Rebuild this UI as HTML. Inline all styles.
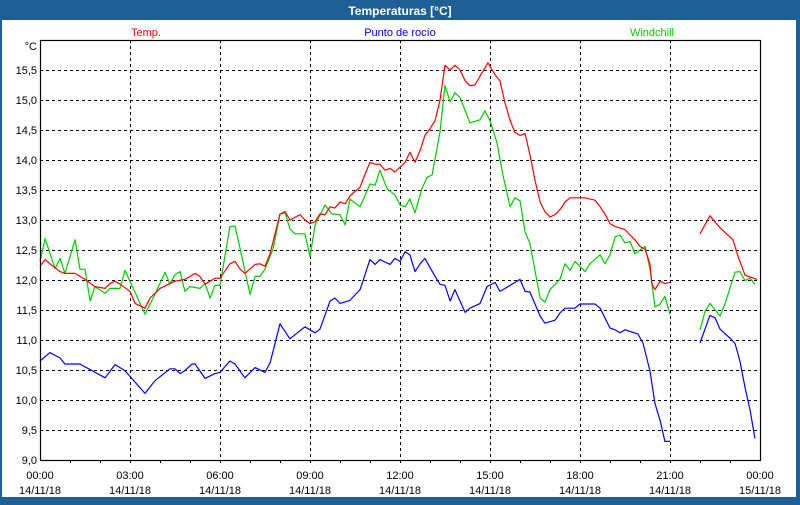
<!DOCTYPE html>
<html><head><meta charset="utf-8"><style>
html,body{margin:0;padding:0;background:#1e5f96;}
body{width:800px;height:500px;overflow:hidden;font-family:"Liberation Sans",sans-serif;}
svg text{font-family:"Liberation Sans",sans-serif;}
</style></head><body>
<svg id="chart" width="800" height="500" xmlns="http://www.w3.org/2000/svg">
<rect x="0" y="0" width="800" height="500" fill="#1e5f96"/>
<rect x="2" y="20" width="794" height="477" fill="#ffffff"/>
<text x="400" y="15" text-anchor="middle" font-size="12" font-weight="bold" fill="#ffffff">Temperaturas [°C]</text>
<text x="146" y="36" text-anchor="middle" font-size="11" fill="#ff0000">Temp.</text>
<text x="400" y="36" text-anchor="middle" font-size="11" fill="#0000ff">Punto de rocío</text>
<text x="652" y="36" text-anchor="middle" font-size="11" fill="#00cc00">Windchill</text>
<text x="37" y="50" text-anchor="end" font-size="11" fill="#000">°C</text>
<g id="grid"></g>
<g id="series"></g>
<g id="axes"></g>
</svg>
<script>
const yTicks=[9.0,9.5,10.0,10.5,11.0,11.5,12.0,12.5,13.0,13.5,14.0,14.5,15.0,15.5];
const yTickLabels=["9,0","9,5","10,0","10,5","11,0","11,5","12,0","12,5","13,0","13,5","14,0","14,5","15,0","15,5"];
const xTicks=[0,3,6,9,12,15,18,21,24];
const xTimeLabels=["00:00","03:00","06:00","09:00","12:00","15:00","18:00","21:00","00:00"];
const xDateLabels=["14/11/18","14/11/18","14/11/18","14/11/18","14/11/18","14/11/18","14/11/18","14/11/18","15/11/18"];

const tempHours=[0,0.17,0.33,0.67,0.83,1.17,1.5,1.83,2.17,2.33,2.5,2.67,3.0,3.17,3.5,3.67,4.0,4.33,4.5,4.83,5.17,5.33,5.5,5.67,5.83,6.0,6.33,6.5,6.67,6.83,7.17,7.33,7.5,7.67,8.0,8.17,8.33,8.67,8.83,9.0,9.17,9.33,9.5,9.67,9.83,10.0,10.17,10.33,10.67,10.83,11.0,11.17,11.33,11.5,11.67,11.83,12.17,12.33,12.5,12.67,12.83,13.0,13.17,13.33,13.5,13.67,13.83,14.0,14.17,14.33,14.5,14.67,14.83,14.93,15.17,15.33,15.5,15.67,15.83,16.0,16.17,16.33,16.5,16.67,16.83,17.0,17.17,17.33,17.5,17.67,18.17,18.5,18.67,18.83,19.0,19.17,19.5,19.67,19.83,20.0,20.17,20.33,20.4,20.5,20.67,20.83,21.0,21.5,22.0,22.33,22.67,23.1,23.27,23.5,23.9];
const tempValues=[12.23,12.34,12.27,12.14,12.11,12.11,12.01,11.89,11.86,11.94,11.98,11.93,11.81,11.61,11.53,11.70,11.86,11.94,11.98,12.01,12.11,12.06,11.93,11.98,12.03,12.03,12.27,12.31,12.18,12.11,12.26,12.27,12.23,12.44,13.10,13.14,13.00,13.09,13.00,12.94,12.97,13.10,13.09,13.22,13.20,13.30,13.27,13.40,13.55,13.76,13.96,13.93,13.93,13.83,13.86,13.80,13.96,14.13,13.96,14.16,14.41,14.52,14.66,14.99,15.58,15.50,15.58,15.50,15.32,15.24,15.25,15.40,15.53,15.62,15.42,15.32,14.95,14.66,14.46,14.41,14.44,14.09,13.66,13.30,13.14,13.05,13.09,13.17,13.30,13.37,13.37,13.33,13.22,13.10,12.94,12.89,12.84,12.75,12.67,12.56,12.51,12.27,11.93,11.84,11.98,11.94,11.96,null,12.77,13.07,12.87,12.67,12.39,12.08,12.01];

const windHours=[0,0.17,0.5,0.67,0.83,1.17,1.33,1.5,1.67,1.83,2.17,2.33,2.67,2.83,3.0,3.5,3.83,4.17,4.33,4.5,4.67,4.83,5.0,5.33,5.5,5.67,5.83,6.0,6.33,6.5,6.67,7.0,7.17,7.33,7.5,7.77,8.0,8.17,8.33,8.5,8.83,9.0,9.17,9.5,9.73,10.0,10.17,10.33,10.67,11.0,11.17,11.33,11.57,11.83,12.0,12.17,12.33,12.5,12.73,12.9,13.07,13.33,13.5,13.67,13.83,14.0,14.33,14.67,14.83,15.0,15.23,15.43,15.67,15.83,16.0,16.17,16.33,16.67,16.83,17.0,17.33,17.5,17.67,17.83,18.17,18.33,18.67,18.83,19.0,19.17,19.33,19.5,19.67,19.83,20.17,20.33,20.5,20.67,20.83,21.0,21.5,22.0,22.17,22.33,22.67,22.83,23.17,23.33,23.5,23.67,23.83];
const windValues=[12.31,12.69,12.19,12.36,12.11,12.67,12.18,12.18,11.65,11.89,11.78,11.86,11.86,12.16,11.98,11.43,11.76,12.13,11.93,12.09,12.14,11.81,11.89,11.86,11.94,11.70,11.91,11.91,12.89,12.90,12.52,11.76,12.06,12.06,12.18,12.52,13.10,13.12,12.85,12.77,12.77,12.39,12.92,13.25,13.10,13.09,12.92,13.35,13.22,13.60,13.58,13.83,13.52,13.42,13.25,13.22,13.35,13.12,13.52,13.71,13.75,14.46,15.24,14.97,15.12,15.04,14.62,14.67,14.82,14.66,14.29,13.75,13.22,13.37,13.32,12.80,12.61,11.70,11.63,11.84,12.01,12.27,12.16,12.31,12.14,12.27,12.42,12.27,12.42,12.72,12.75,12.62,12.64,12.44,12.56,12.19,11.55,11.60,11.73,11.43,null,11.17,11.48,11.61,11.40,11.60,12.13,12.14,11.99,12.03,11.93];

const dewHours=[0,0.33,0.67,0.83,1.33,2.17,2.5,2.83,3.5,3.83,4.33,4.5,4.67,4.83,5.07,5.17,5.5,5.83,6.0,6.33,6.5,6.83,7.17,7.5,7.67,8.0,8.33,8.83,9.17,9.33,9.67,9.83,10.0,10.33,10.67,10.9,11.0,11.17,11.33,11.67,11.83,12.0,12.17,12.33,12.5,12.67,12.83,13.17,13.33,13.5,13.67,13.83,14.17,14.33,14.67,14.9,15.17,15.33,15.5,16.0,16.17,16.33,16.67,16.83,17.17,17.33,17.5,17.83,18.0,18.5,18.67,19.0,19.17,19.33,19.5,19.93,20.1,20.33,20.5,20.67,20.83,21.0,21.5,22.0,22.33,22.5,22.67,23.0,23.17,23.33,23.5,23.67,23.83];
const dewValues=[10.65,10.79,10.70,10.60,10.60,10.37,10.59,10.49,10.11,10.32,10.52,10.52,10.44,10.49,10.60,10.60,10.36,10.44,10.46,10.65,10.60,10.37,10.54,10.46,10.62,11.27,11.02,11.22,11.12,11.18,11.65,11.70,11.61,11.66,11.84,12.19,12.34,12.26,12.34,12.26,12.36,12.31,12.47,12.42,12.14,12.27,12.36,12.06,11.93,11.91,11.65,11.84,11.46,11.53,11.61,11.89,11.96,11.81,11.86,12.01,11.81,11.80,11.40,11.28,11.33,11.45,11.53,11.53,11.60,11.60,11.53,11.20,11.17,11.12,11.17,11.10,10.95,10.49,9.94,9.66,9.31,9.31,null,10.95,11.41,11.37,11.18,11.03,10.94,10.65,10.21,9.83,9.36];

const PL=40,PR=760,PT=40,PB=460,YMIN=9,YMAX=16,XMAX=24;
function xs(h){return PL+(PR-PL)*h/XMAX;}
function ys(v){return PB-(PB-PT)*(v-YMIN)/(YMAX-YMIN);}
const NS='http://www.w3.org/2000/svg';
function mk(tag,attrs,parent){const e=document.createElementNS(NS,tag);for(const k in attrs)e.setAttribute(k,attrs[k]);parent.appendChild(e);return e;}
const grid=document.getElementById('grid'),series=document.getElementById('series'),axes=document.getElementById('axes');

yTicks.forEach((v,i)=>{
  if(i>0){const l=mk('line',{x1:PL,x2:PR,y1:ys(v)+0.5,y2:ys(v)+0.5,stroke:'#000','stroke-width':1,'stroke-dasharray':'3,3'},grid);
  
  }
  const t=mk('text',{x:37,y:ys(v)+4,'text-anchor':'end','font-size':11,fill:'#000'},axes);
  t.textContent=yTickLabels[i];
  
  
});
xTicks.forEach((h,i)=>{
  if(i>0&&i<xTicks.length-1){const l=mk('line',{x1:xs(h)+0.5,x2:xs(h)+0.5,y1:PT,y2:PB,stroke:'#000','stroke-width':1,'stroke-dasharray':'3,3'},grid);
  
  }
  const t1=mk('text',{x:xs(h),y:479,'text-anchor':'middle','font-size':11,fill:'#000'},axes);
  t1.textContent=xTimeLabels[i];
  
  
  const t2=mk('text',{x:xs(h),y:494,'text-anchor':'middle','font-size':11,fill:'#000'},axes);
  t2.textContent=xDateLabels[i];
  
  
});
for(let h=1;h<24;h++){
  const m=mk('line',{x1:xs(h)+0.5,x2:xs(h)+0.5,y1:PB,y2:PB+3,stroke:'#000','stroke-width':1},axes);
  
  
}
const frame=mk('rect',{x:PL+0.5,y:PT+0.5,width:PR-PL,height:PB-PT,fill:'none',stroke:'#000','stroke-width':1.2},axes);



function drawSeries(hours,vals,color,name){
  let d='',pen=false;
  for(let i=0;i<hours.length;i++){
    if(vals[i]===null){pen=false;continue;}
    d+=(pen?'L':'M')+xs(hours[i]).toFixed(1)+' '+ys(vals[i]).toFixed(1)+' ';pen=true;
  }
  const p=mk('path',{d:d,fill:'none',stroke:color,'stroke-width':1.2,'stroke-linejoin':'round'},series);
  
  
}
drawSeries(dewHours,dewValues,'#0000ff','dew-point-line');
drawSeries(windHours,windValues,'#00cc00','windchill-line');
drawSeries(tempHours,tempValues,'#ff0000','temp-line');
</script>
</body></html>
